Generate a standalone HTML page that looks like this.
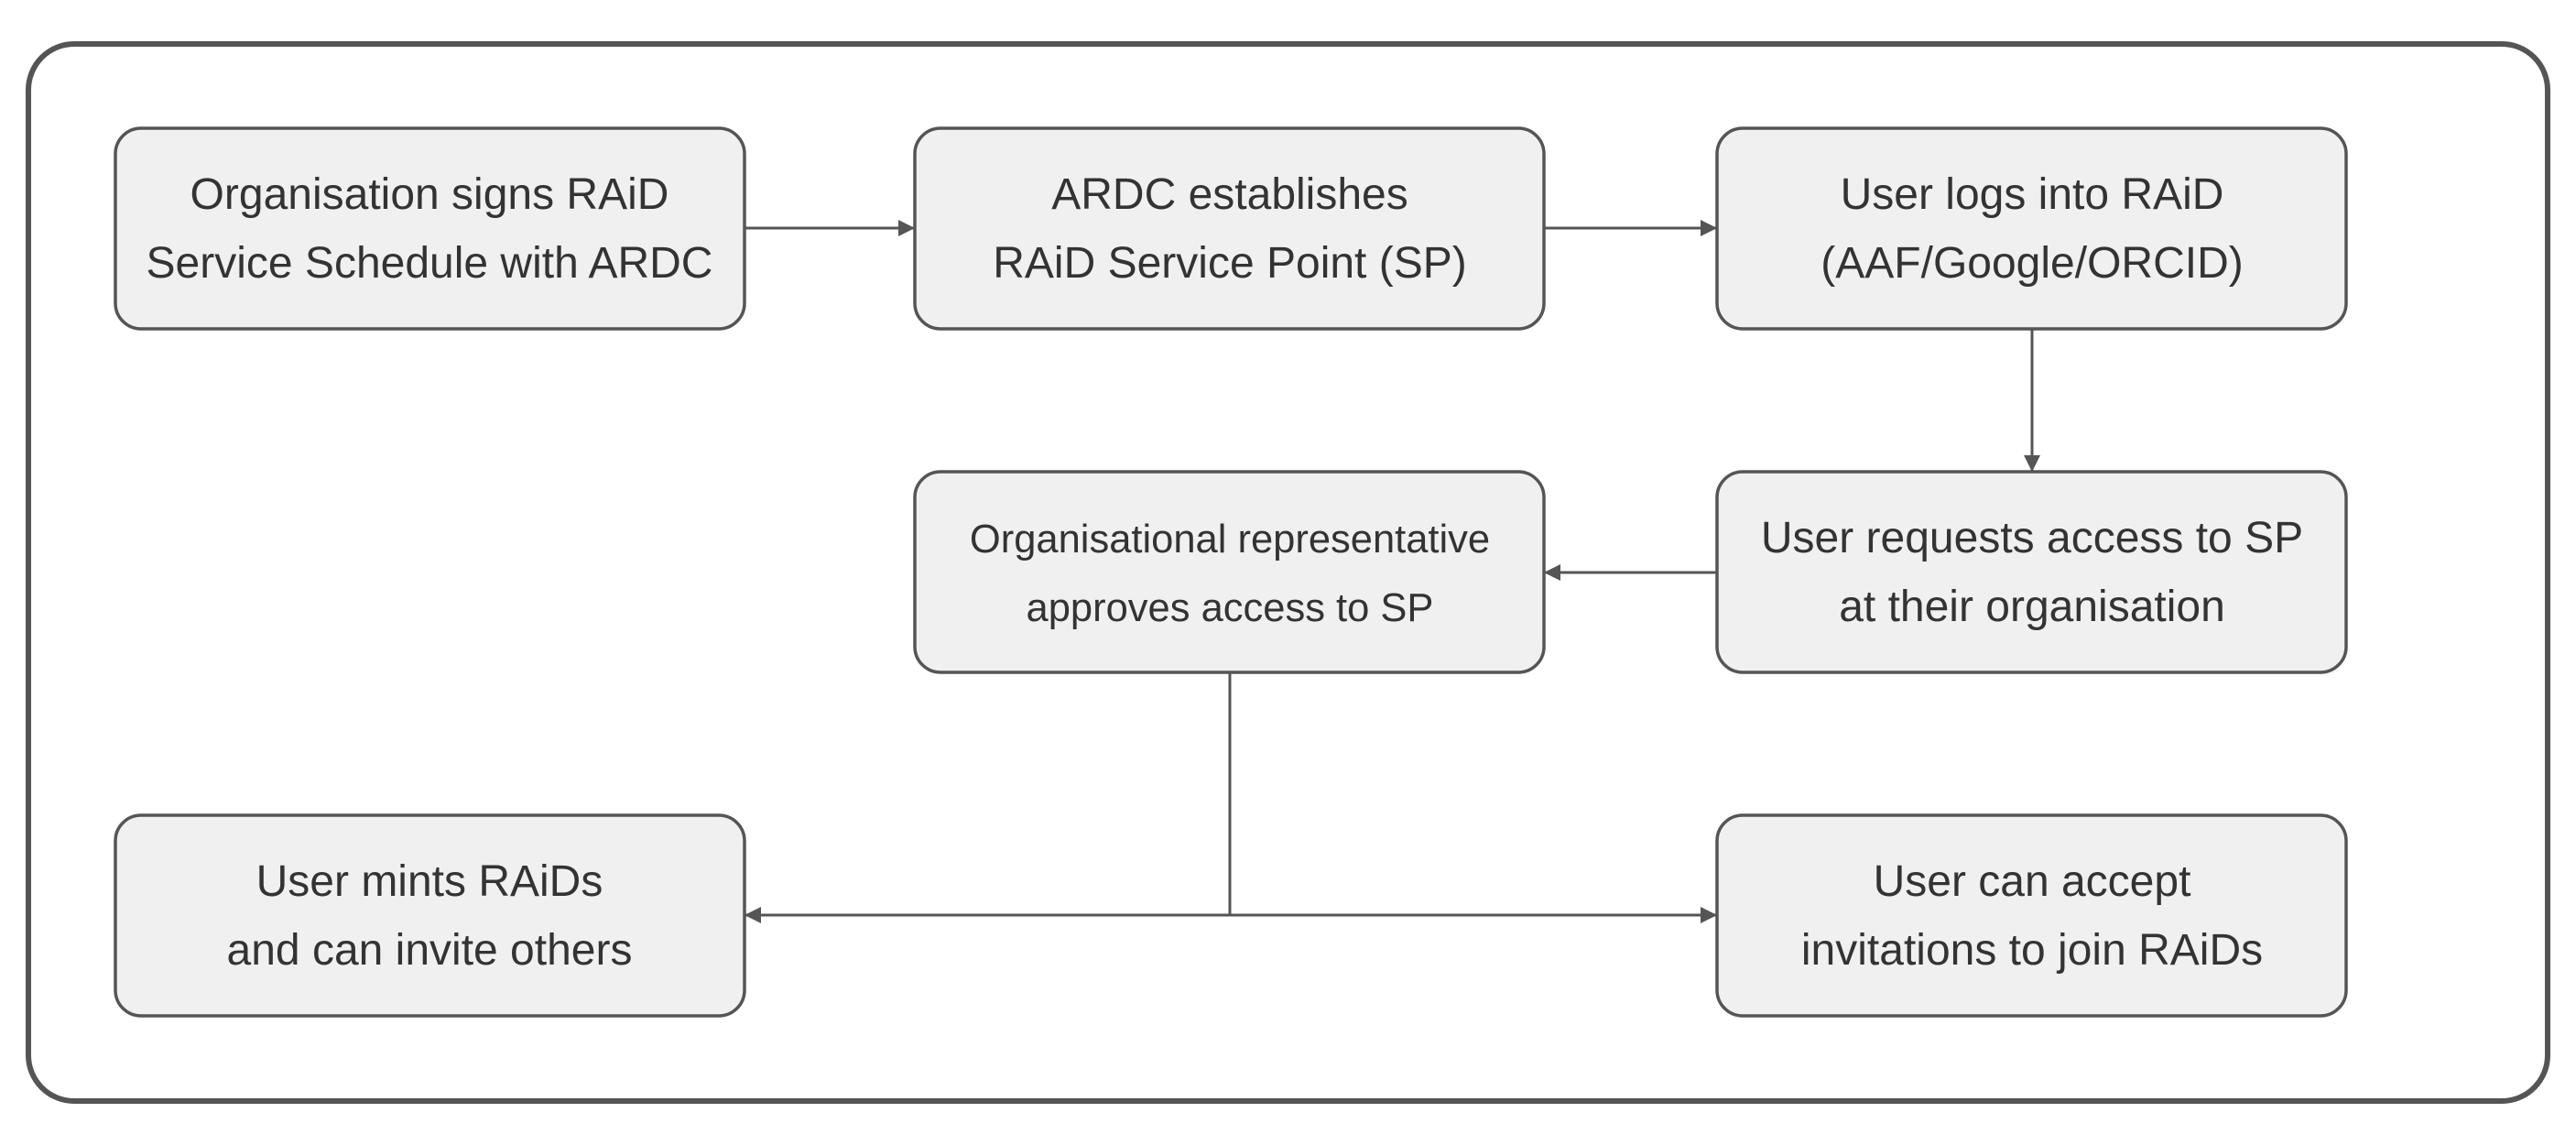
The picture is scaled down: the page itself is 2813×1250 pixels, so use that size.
<!DOCTYPE html>
<html><head><meta charset="utf-8"><style>
html,body{margin:0;padding:0;background:#fff;}
svg{display:block;}
text{font-family:"Liberation Sans",Arial,sans-serif;fill:#333;text-anchor:middle;}
</style></head><body>
<svg width="2813" height="1250" viewBox="0 0 2813 1250" xmlns="http://www.w3.org/2000/svg">
<defs>
<marker id="ab" viewBox="0 0 10 10" markerWidth="18" markerHeight="18" refX="10" refY="5" orient="auto" markerUnits="userSpaceOnUse">
<path d="M0,0 L10,5 L0,10 z" fill="#555"/>
</marker>
</defs>
<rect x="31" y="48" width="2751" height="1154" rx="50" fill="#fff" stroke="#555" stroke-width="6"/>
<g fill="#f0f0f0" stroke="#555" stroke-width="3.5">
<rect x="126" y="140" width="687" height="219" rx="28"/>
<rect x="999" y="140" width="687" height="219" rx="28"/>
<rect x="1875" y="140" width="687" height="219" rx="28"/>
<rect x="999" y="515" width="687" height="219" rx="28"/>
<rect x="1875" y="515" width="687" height="219" rx="28"/>
<rect x="126" y="890" width="687" height="219" rx="28"/>
<rect x="1875" y="890" width="687" height="219" rx="28"/>
</g>
<g stroke="#555" stroke-width="3" fill="none">
<line x1="813" y1="249" x2="999" y2="249" marker-end="url(#ab)"/>
<line x1="1686" y1="249" x2="1875" y2="249" marker-end="url(#ab)"/>
<line x1="2219" y1="359" x2="2219" y2="515" marker-end="url(#ab)"/>
<line x1="1875" y1="625" x2="1686" y2="625" marker-end="url(#ab)"/>
<line x1="1343" y1="734" x2="1343" y2="999"/>
<line x1="1343" y1="999" x2="813" y2="999" marker-end="url(#ab)"/>
<line x1="1343" y1="999" x2="1875" y2="999" marker-end="url(#ab)"/>
</g>
<g font-size="48">
<text x="469" y="228">Organisation signs RAiD</text>
<text x="469" y="303">Service Schedule with ARDC</text>
<text x="1343" y="228">ARDC establishes</text>
<text x="1343" y="303">RAiD Service Point (SP)</text>
<text x="2219" y="228">User logs into RAiD</text>
<text x="2219" y="303">(AAF/Google/ORCID)</text>
<text x="2219" y="603">User requests access to SP</text>
<text x="2219" y="678">at their organisation</text>
<text x="469" y="978">User mints RAiDs</text>
<text x="469" y="1053">and can invite others</text>
<text x="2219" y="978">User can accept</text>
<text x="2219" y="1053">invitations to join RAiDs</text>
</g>
<g font-size="43.5">
<text x="1343" y="603">Organisational representative</text>
<text x="1343" y="678">approves access to SP</text>
</g>
</svg>
</body></html>
